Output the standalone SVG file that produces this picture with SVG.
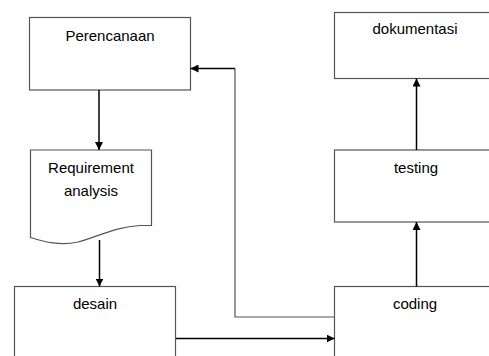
<svg xmlns="http://www.w3.org/2000/svg" width="489" height="356" viewBox="0 0 489 356">
<defs>
<style>
.box{fill:#fff;stroke:#555;stroke-width:1.2}
.t{font-family:"Liberation Sans",Arial,sans-serif;font-size:15px;fill:#000;text-anchor:middle}
.c{fill:none;stroke:#000;stroke-width:1.5}
.f{fill:none;stroke:#555;stroke-width:1.2}
</style>
<marker id="ah" viewBox="0 0 10 10" refX="10" refY="5" markerWidth="8" markerHeight="8" markerUnits="userSpaceOnUse" orient="auto">
<path d="M0,0 L10,5 L0,10 Z" fill="#000"/>
</marker>
</defs>
<rect width="489" height="356" fill="#fff"/>
<g id="perencanaan">
<rect class="box" x="29.5" y="17.5" width="161" height="72.5"/>
<text class="t" x="110" y="41">Perencanaan</text>
</g>
<g id="requirement">
<path class="box" d="M30.5,150 L151.5,150 L151.5,225.5 L140,225.5 C115,227 100,236 78,242 C60,246 45,242 30.5,237.5 Z"/>
<text class="t" x="91" y="173">Requirement</text>
<text class="t" x="91" y="196">analysis</text>
</g>
<g id="desain">
<rect class="box" x="14.5" y="286.5" width="161" height="80"/>
<text class="t" x="95" y="309">desain</text>
</g>
<g id="dokumentasi">
<rect class="box" x="334.5" y="12.5" width="170" height="66"/>
<text class="t" x="415" y="34">dokumentasi</text>
</g>
<g id="testing">
<rect class="box" x="334.5" y="150" width="170" height="72"/>
<text class="t" x="416" y="173">testing</text>
</g>
<g id="coding">
<rect class="box" x="334.5" y="286.5" width="170" height="80"/>
<text class="t" x="415" y="309">coding</text>
</g>
<g id="connectors">
<path class="c" d="M99,90 L99,150" marker-end="url(#ah)"/>
<path class="c" d="M99.5,240 L99.5,286.5" marker-end="url(#ah)"/>
<path class="c" d="M176,338.5 L334.5,338.5" marker-end="url(#ah)"/>
<path class="c" d="M416.5,286.5 L416.5,222" marker-end="url(#ah)"/>
<path class="c" d="M416.5,150 L416.5,78.5" marker-end="url(#ah)"/>
<path class="f" d="M334.5,317 L235,317 L235,68.5"/>
<path class="c" d="M235,68.5 L190.5,68.5" marker-end="url(#ah)"/>
</g>
</svg>
